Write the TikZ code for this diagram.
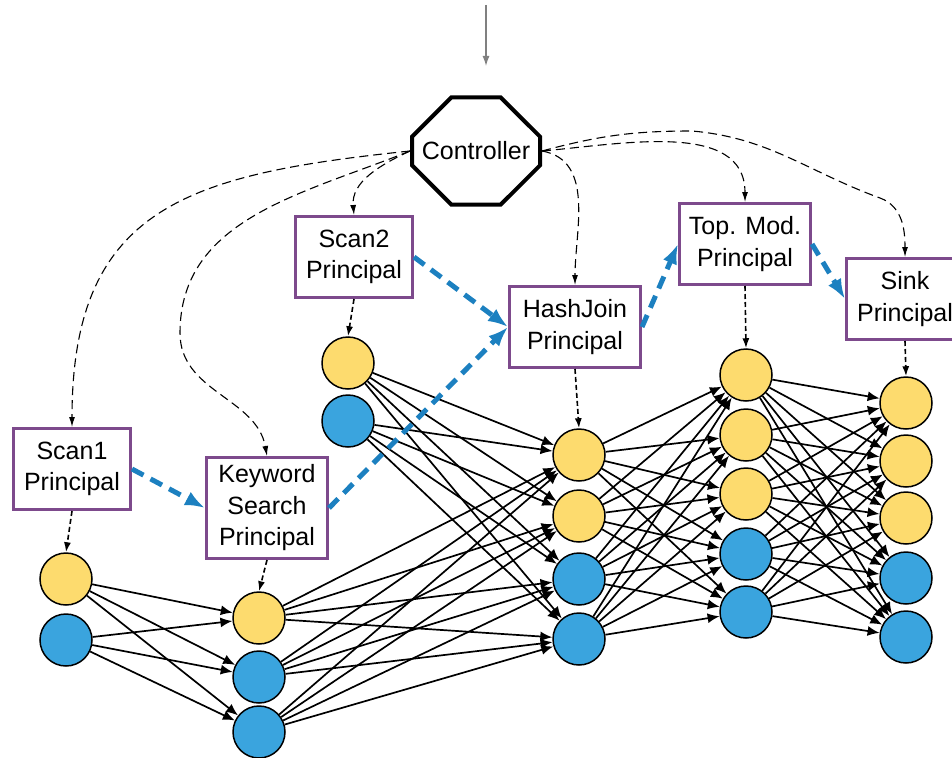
\documentclass[tikz,border=0pt]{standalone}
\usepackage{fontspec}
\setmainfont{Liberation Sans}
\usetikzlibrary{shapes.misc,arrows.meta}

\definecolor{nodeyel}{RGB}{253,219,110}
\definecolor{nodeblu}{RGB}{58,164,222}
\definecolor{boxpur}{RGB}{125,74,140}
\definecolor{flowblu}{RGB}{28,128,192}

\tikzset{
  neuron/.style={circle,draw=black,line width=1.5pt,minimum size=52pt,inner sep=0pt},
  principal/.style={draw=boxpur,line width=3pt,fill=white,align=center,
    font=\fontsize{25}{31.5}\selectfont,minimum height=81pt,inner xsep=8pt},
  edge/.style={-{Latex[length=12pt,width=10pt]},line width=1.7pt},
  ctrlwire/.style={-{Latex[length=10pt,width=6pt]},line width=1.1pt,dash pattern=on 9pt off 5pt},
  feed/.style={-{Latex[length=10pt,width=7pt]},line width=1.6pt,dash pattern=on 5pt off 3pt},
  flow/.style={-{Latex[length=20pt,width=15pt]},flowblu,line width=5pt,dash pattern=on 13pt off 8pt},
}

\begin{document}
\begin{tikzpicture}[x=1pt,y=1pt]
\useasboundingbox (0,0) rectangle (952,-757);

% Controller and principals
\node[draw,line width=4pt,chamfered rectangle,chamfered rectangle xsep=37pt,
  chamfered rectangle ysep=30pt,minimum width=128pt,minimum height=107pt,inner sep=0pt,
  font=\fontsize{25}{30}\selectfont] (ctrl) at (476,-151) {Controller};
\node[principal,minimum width=117pt] (scan1) at (72,-469) {Scan1\\Principal};
\node[principal,minimum width=121pt,minimum height=101pt,inner ysep=2pt] (kw) at (267,-508) {Keyword\\Search\\Principal};
\node[principal,minimum width=117pt] (scan2) at (354,-257) {Scan2\\Principal};
\node[principal,minimum width=131pt] (hj) at (575,-327) {HashJoin\\Principal};
\node[principal,minimum width=131pt] (tm) at (745,-244) {Top. Mod.\\Principal};
\node[principal,minimum width=117pt] (sink) at (905,-299) {Sink\\Principal};

% Neuron columns
\foreach \n/\y/\c in {1/579/nodeyel,2/640/nodeblu}
  \node[neuron,fill=\c] (a\n) at (66,-\y) {};
\foreach \n/\y/\c in {1/618/nodeyel,2/677/nodeblu,3/732/nodeblu}
  \node[neuron,fill=\c] (b\n) at (259,-\y) {};
\foreach \n/\y/\c in {1/363/nodeyel,2/421/nodeblu}
  \node[neuron,fill=\c] (c\n) at (348,-\y) {};
\foreach \n/\y/\c in {1/455/nodeyel,2/516/nodeyel,3/579/nodeblu,4/639/nodeblu}
  \node[neuron,fill=\c] (d\n) at (579,-\y) {};
\foreach \n/\y/\c in {1/375/nodeyel,2/435/nodeyel,3/494/nodeyel,4/554/nodeblu,5/612/nodeblu}
  \node[neuron,fill=\c] (e\n) at (746,-\y) {};
\foreach \n/\y/\c in {1/403/nodeyel,2/461/nodeyel,3/518/nodeyel,4/578/nodeblu,5/637/nodeblu}
  \node[neuron,fill=\c] (f\n) at (906,-\y) {};

% Full connections
\foreach \i in {1,2} \foreach \j in {1,2,3} \draw[edge] (a\i) -- (b\j);
\foreach \i in {1,2,3} \foreach \j in {1,...,4} \draw[edge] (b\i) -- (d\j);
\foreach \i in {1,2} \foreach \j in {1,...,4} \draw[edge] (c\i) -- (d\j);
\foreach \i in {1,...,4} \foreach \j in {1,...,5} \draw[edge] (d\i) -- (e\j);
\foreach \i in {1,...,5} \foreach \j in {1,...,5} \draw[edge] (e\i) -- (f\j);

% Principal to first neuron
\draw[feed] (scan1.south) -- (a1.north);
\draw[feed] (kw.south) -- (b1.north);
\draw[feed] (scan2.south) -- (c1.north);
\draw[feed] (hj.south) -- (d1.north);
\draw[feed] (tm.south) -- (e1.north);
\draw[feed] (sink.south) -- (f1.north);

% Data flow between principals
\draw[flow] (scan1.east) -- (kw.west);
\draw[flow] (kw.east) -- (hj.west);
\draw[flow] (scan2.east) -- (hj.west);
\draw[flow] (hj.east) -- (tm.west);
\draw[flow] (tm.east) -- (sink.west);

% Controller wiring
\draw[ctrlwire] (ctrl.west) to[out=186,in=90,looseness=1.3] (scan1.north);
\draw[ctrlwire] (ctrl.west) to[out=202,in=90] (180,-333) to[out=-90,in=100] (kw.north);
\draw[ctrlwire] (ctrl.west) to[out=205,in=95] (scan2.north);
\draw[ctrlwire] (ctrl.east) to[out=-10,in=90] (hj.north);
\draw[ctrlwire] (ctrl.east) to[out=5,in=90] (tm.north);
\draw[ctrlwire] (ctrl.east) to[out=15,in=180] (692,-131) to[out=-5,in=160] (880,-198)
  to[out=-20,in=90] (sink.north);

% Incoming request
\coordinate (reqtop) at (486,-5);
\coordinate (reqend) at (486,-66);
\draw[-{Latex[length=10pt,width=7pt]},gray,line width=1.3pt] (reqtop) -- (reqend);
\end{tikzpicture}
\end{document}
